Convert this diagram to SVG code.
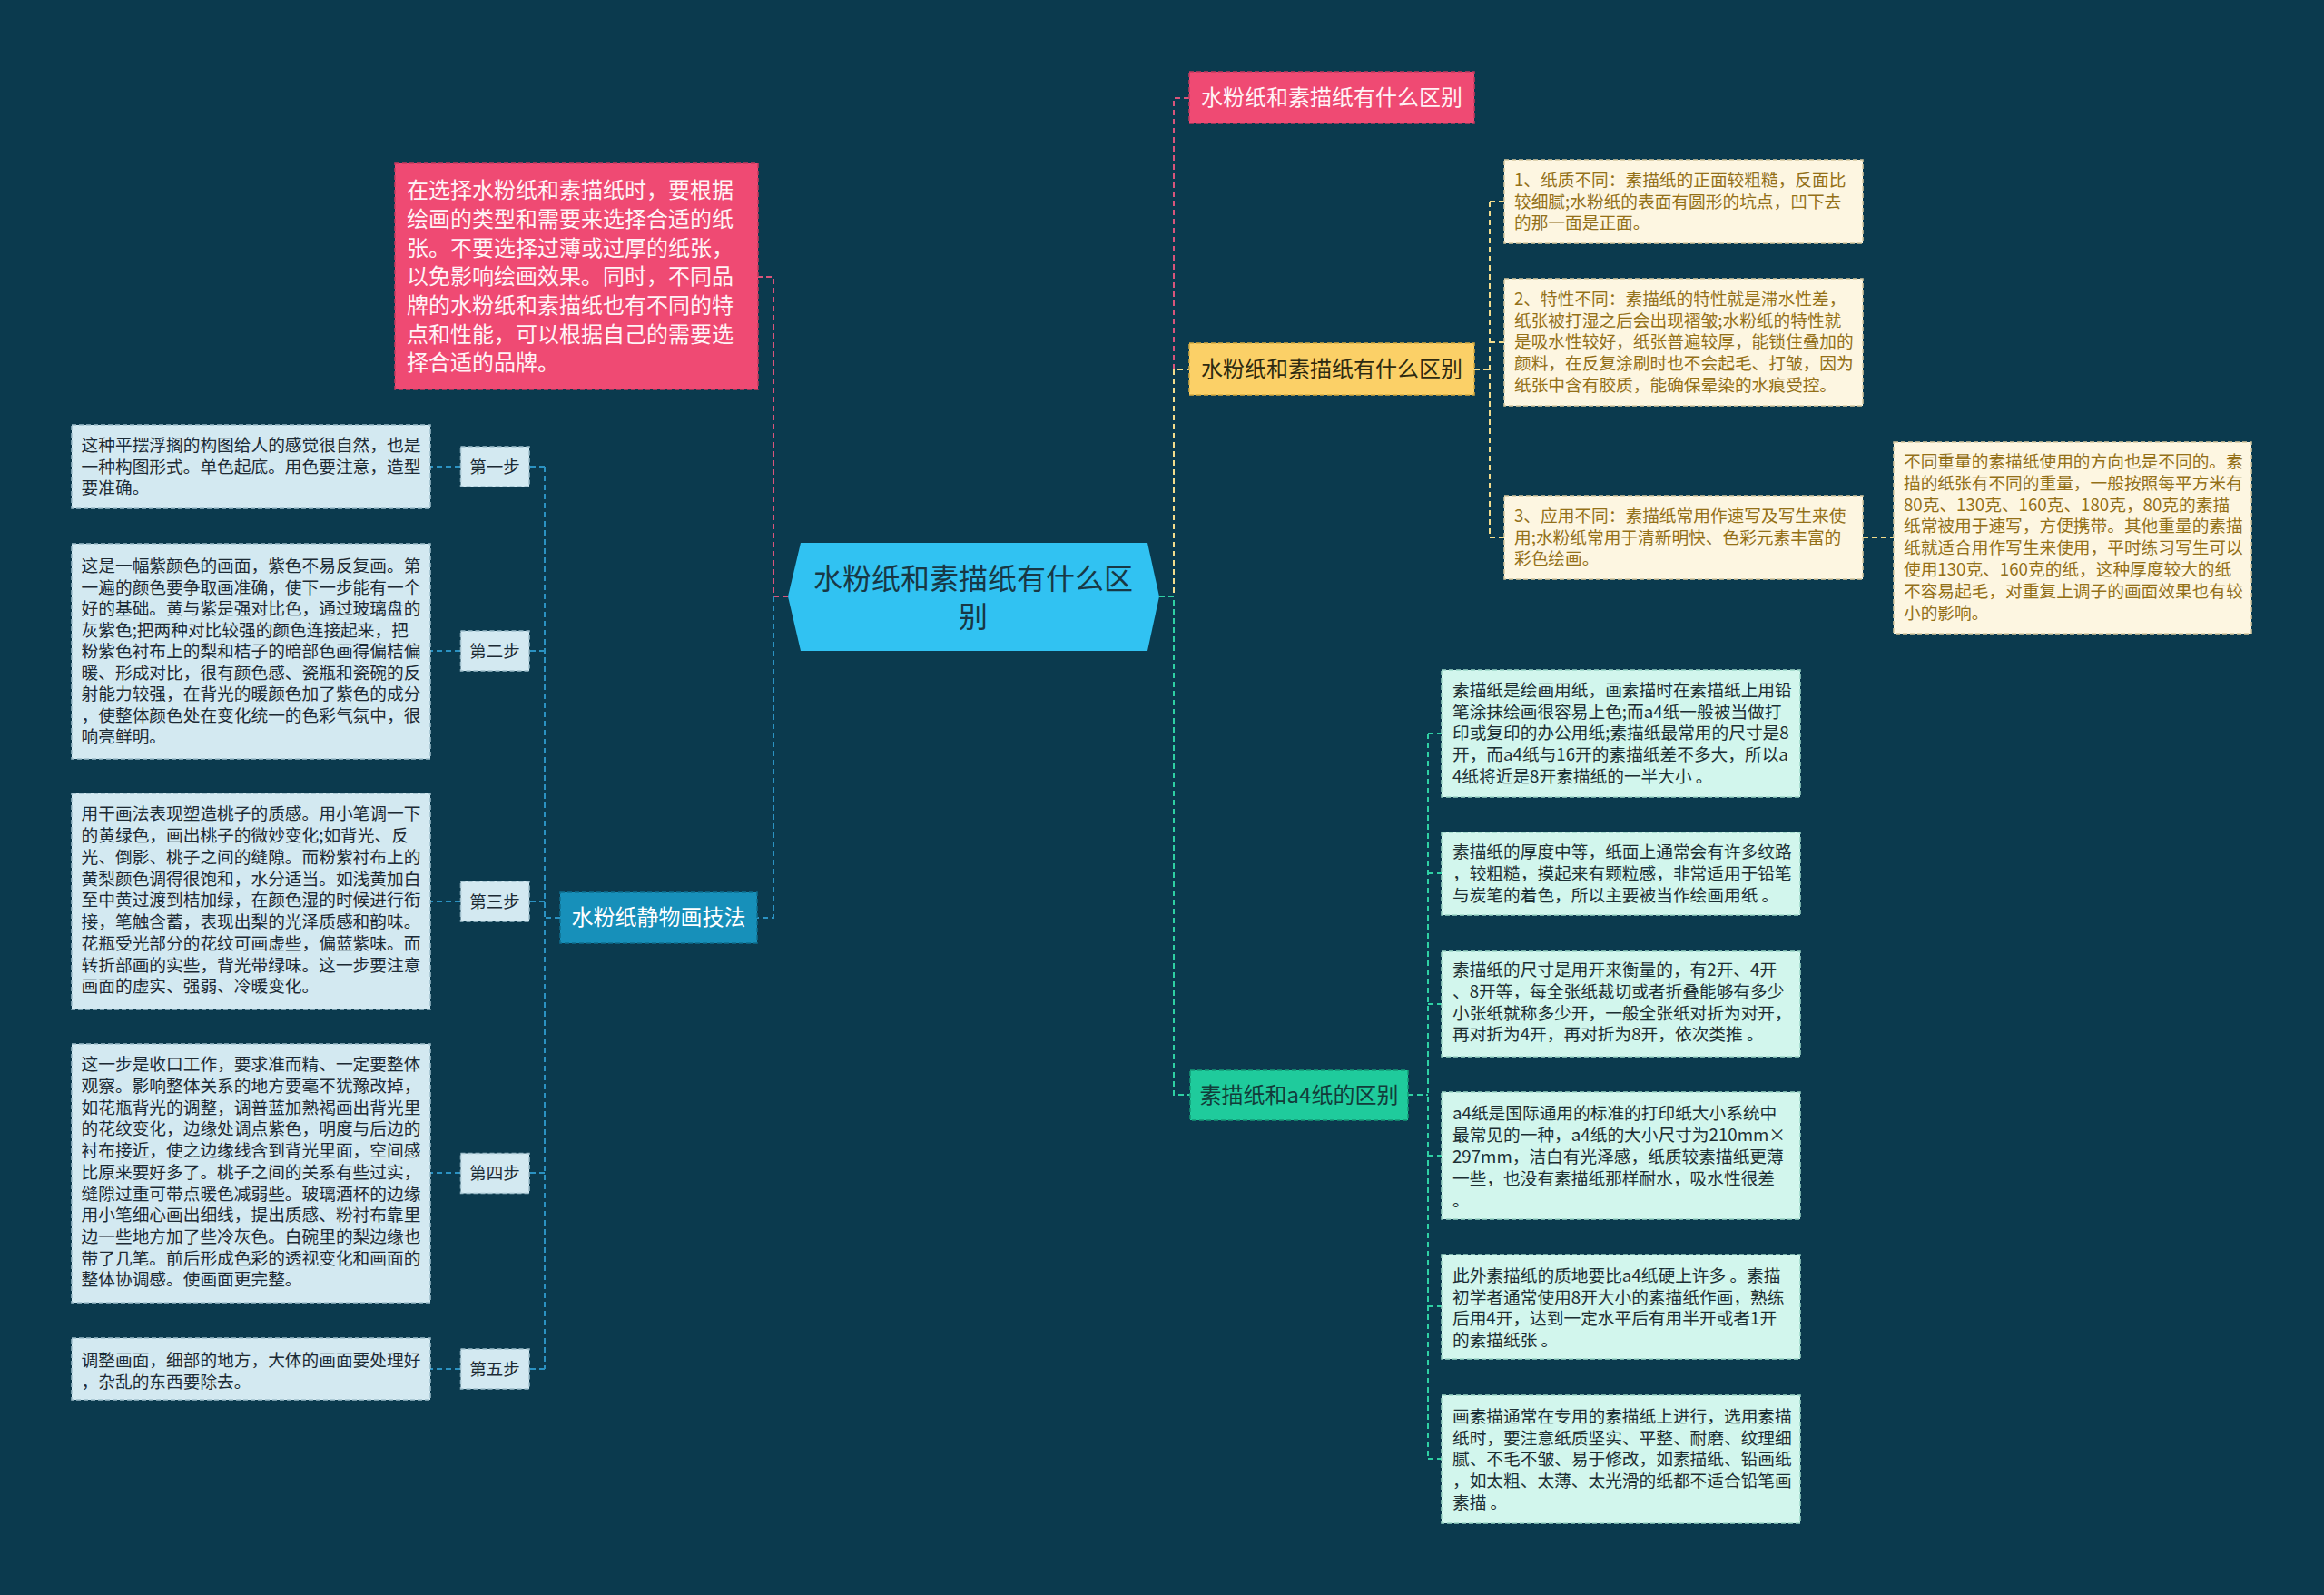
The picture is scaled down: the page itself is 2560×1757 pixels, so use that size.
<svg xmlns="http://www.w3.org/2000/svg" width="2560" height="1757" viewBox="0 0 2560 1757">
<style>
text{font-family:"Noto Sans CJK SC","Noto Sans",sans-serif;}
.c{fill:none;stroke-width:2;stroke-dasharray:6 4;}
.cp{stroke:#d9557b;}
.cy{stroke:#f3dc8c;}
.cg{stroke:#2fd0a4;}
.cb{stroke:#2b92c2;}
.nb{stroke-width:1.5;stroke-dasharray:5 3;}
.lb{fill:#d3e9f1;stroke:#9fbfcc;}
.yb{fill:#fdf6e1;stroke:#d8c9a0;}
.gb{fill:#d2f6ed;stroke:#9cd6c6;}
.tl{font-size:18.7px;fill:#1c2a34;}
.ty{font-size:18.7px;fill:#937018;}
.tg{font-size:18.7px;fill:#1c2f33;}
.step{font-size:18.5px;fill:#1c2a34;text-anchor:middle;}
.big{font-size:24px;text-anchor:middle;}
</style>
<rect width="2560" height="1757" fill="#0b3a4e"/>

<g id="connectors">
  <path class="c cp" d="M868,657 H852 V305 H835"/>
  <path class="c cb" d="M852,657 V1011 H834"/>
  <path class="c cb" d="M617,1011 H600"/>
  <path class="c cb" d="M600,514 V1508"/>
  <path class="c cb" d="M600,514 H583 M507,514 H474"/>
  <path class="c cb" d="M600,717 H583 M507,717 H474"/>
  <path class="c cb" d="M600,993 H583 M507,993 H474"/>
  <path class="c cb" d="M600,1292 H583 M507,1292 H474"/>
  <path class="c cb" d="M600,1508 H583 M507,1508 H474"/>
  <path class="c cp" d="M1293,407 V108 H1310"/>
  <path class="c cy" d="M1277,657 H1293 V407 H1310"/>
  <path class="c cg" d="M1277,657 H1293 V1206 H1311"/>
  <path class="c cy" d="M1624,407 H1641"/>
  <path class="c cy" d="M1641,222 V592"/>
  <path class="c cy" d="M1641,222 H1657 M1641,377 H1657 M1641,592 H1657"/>
  <path class="c cy" d="M2052,592 H2086"/>
  <path class="c cg" d="M1551,1206 H1573"/>
  <path class="c cg" d="M1573,808 V1607"/>
  <path class="c cg" d="M1573,808 H1588 M1573,962 H1588 M1573,1106 H1588 M1573,1273 H1588 M1573,1439 H1588 M1573,1607 H1588"/>
</g>

<g id="center">
  <polygon points="868,657 882,598 1264,598 1277,657 1264,717 882,717" fill="#31c2f2"/>
  <text x="1072" y="649" font-size="32" fill="#183845" text-anchor="middle">水粉纸和素描纸有什么区</text>
  <text x="1072" y="691" font-size="32" fill="#183845" text-anchor="middle">别</text>
</g>

<g id="pink-note">
  <rect x="435" y="180" width="400" height="249" fill="#ef4a73" stroke="#c53a5f" class="nb"/>
  <g font-size="24" fill="#fff3f6">
    <text x="448" y="218">在选择水粉纸和素描纸时，要根据</text>
    <text x="448" y="250">绘画的类型和需要来选择合适的纸</text>
    <text x="448" y="282">张。不要选择过薄或过厚的纸张，</text>
    <text x="448" y="313">以免影响绘画效果。同时，不同品</text>
    <text x="448" y="345">牌的水粉纸和素描纸也有不同的特</text>
    <text x="448" y="377">点和性能，可以根据自己的需要选</text>
    <text x="448" y="408">择合适的品牌。</text>
  </g>
</g>

<g id="technique">
  <rect x="617" y="983" width="217" height="56" fill="#1790ba" stroke="#0f6f90" class="nb"/>
  <text x="725.5" y="1019" class="big" fill="#ffffff">水粉纸静物画技法</text>
</g>

<g id="step1">
  <rect x="507.5" y="492" width="75.5" height="44" fill="#d3e9f1" stroke="#9fbfcc" class="nb"/>
  <text x="545" y="520.5" class="step">第一步</text>
</g>
<g id="step1-text">
  <rect x="79" y="468" width="395" height="92" class="lb nb"/>
  <text class="tl" x="89.6" y="497.3">这种平摆浮搁的构图给人的感觉很自然，也是</text>
  <text class="tl" x="89.6" y="520.8">一种构图形式。单色起底。用色要注意，造型</text>
  <text class="tl" x="89.6" y="544.3">要准确。</text>
</g>

<g id="step2">
  <rect x="507.5" y="695" width="75.5" height="44" fill="#d3e9f1" stroke="#9fbfcc" class="nb"/>
  <text x="545" y="723.5" class="step">第二步</text>
</g>
<g id="step2-text">
  <rect x="79" y="599" width="395" height="237" class="lb nb"/>
  <text class="tl" x="89.6" y="630">这是一幅紫颜色的画面，紫色不易反复画。第</text>
  <text class="tl" x="89.6" y="653.5">一遍的颜色要争取画准确，使下一步能有一个</text>
  <text class="tl" x="89.6" y="677">好的基础。黄与紫是强对比色，通过玻璃盘的</text>
  <text class="tl" x="89.6" y="700.5">灰紫色;把两种对比较强的颜色连接起来，把</text>
  <text class="tl" x="89.6" y="724">粉紫色衬布上的梨和桔子的暗部色画得偏桔偏</text>
  <text class="tl" x="89.6" y="747.5">暖、形成对比，很有颜色感、瓷瓶和瓷碗的反</text>
  <text class="tl" x="89.6" y="771">射能力较强，在背光的暖颜色加了紫色的成分</text>
  <text class="tl" x="89.6" y="794.5">，使整体颜色处在变化统一的色彩气氛中，很</text>
  <text class="tl" x="89.6" y="818">响亮鲜明。</text>
</g>

<g id="step3">
  <rect x="507.5" y="971" width="75.5" height="44" fill="#d3e9f1" stroke="#9fbfcc" class="nb"/>
  <text x="545" y="999.5" class="step">第三步</text>
</g>
<g id="step3-text">
  <rect x="79" y="874" width="395" height="238" class="lb nb"/>
  <text class="tl" x="89.6" y="903.3">用干画法表现塑造桃子的质感。用小笔调一下</text>
  <text class="tl" x="89.6" y="927">的黄绿色，画出桃子的微妙变化;如背光、反</text>
  <text class="tl" x="89.6" y="950.8">光、倒影、桃子之间的缝隙。而粉紫衬布上的</text>
  <text class="tl" x="89.6" y="974.5">黄梨颜色调得很饱和，水分适当。如浅黄加白</text>
  <text class="tl" x="89.6" y="998.3">至中黄过渡到桔加绿，在颜色湿的时候进行衔</text>
  <text class="tl" x="89.6" y="1022">接，笔触含蓄，表现出梨的光泽质感和韵味。</text>
  <text class="tl" x="89.6" y="1045.8">花瓶受光部分的花纹可画虚些，偏蓝紫味。而</text>
  <text class="tl" x="89.6" y="1069.5">转折部画的实些，背光带绿味。这一步要注意</text>
  <text class="tl" x="89.6" y="1093.3">画面的虚实、强弱、冷暖变化。</text>
</g>

<g id="step4">
  <rect x="507.5" y="1270.5" width="75.5" height="44" fill="#d3e9f1" stroke="#9fbfcc" class="nb"/>
  <text x="545" y="1299" class="step">第四步</text>
</g>
<g id="step4-text">
  <rect x="79" y="1150" width="395" height="285" class="lb nb"/>
  <text class="tl" x="89.6" y="1179.3">这一步是收口工作，要求准而精、一定要整体</text>
  <text class="tl" x="89.6" y="1203">观察。影响整体关系的地方要毫不犹豫改掉，</text>
  <text class="tl" x="89.6" y="1226.7">如花瓶背光的调整，调普蓝加熟褐画出背光里</text>
  <text class="tl" x="89.6" y="1250.4">的花纹变化，边缘处调点紫色，明度与后边的</text>
  <text class="tl" x="89.6" y="1274.1">衬布接近，使之边缘线含到背光里面，空间感</text>
  <text class="tl" x="89.6" y="1297.8">比原来要好多了。桃子之间的关系有些过实，</text>
  <text class="tl" x="89.6" y="1321.5">缝隙过重可带点暖色减弱些。玻璃酒杯的边缘</text>
  <text class="tl" x="89.6" y="1345.2">用小笔细心画出细线，提出质感、粉衬布靠里</text>
  <text class="tl" x="89.6" y="1368.9">边一些地方加了些冷灰色。白碗里的梨边缘也</text>
  <text class="tl" x="89.6" y="1392.6">带了几笔。前后形成色彩的透视变化和画面的</text>
  <text class="tl" x="89.6" y="1416.3">整体协调感。使画面更完整。</text>
</g>

<g id="step5">
  <rect x="507.5" y="1486" width="75.5" height="44" fill="#d3e9f1" stroke="#9fbfcc" class="nb"/>
  <text x="545" y="1514.5" class="step">第五步</text>
</g>
<g id="step5-text">
  <rect x="79" y="1474" width="395" height="68" class="lb nb"/>
  <text class="tl" x="89.6" y="1505">调整画面，细部的地方，大体的画面要处理好</text>
  <text class="tl" x="89.6" y="1528.5">，杂乱的东西要除去。</text>
</g>

<g id="pink-title">
  <rect x="1310" y="79" width="314" height="57" fill="#ef4a73" stroke="#c53a5f" class="nb"/>
  <text x="1467" y="116" class="big" fill="#fff3f6">水粉纸和素描纸有什么区别</text>
</g>

<g id="yellow-title">
  <rect x="1310" y="378" width="314" height="57" fill="#fbd067" stroke="#d6aa40" class="nb"/>
  <text x="1467" y="415" class="big" fill="#2e2a10">水粉纸和素描纸有什么区别</text>
</g>

<g id="y1">
  <rect x="1657" y="176" width="395" height="92" class="yb nb"/>
  <text class="ty" x="1668" y="205">1、纸质不同：素描纸的正面较粗糙，反面比</text>
  <text class="ty" x="1668" y="228.7">较细腻;水粉纸的表面有圆形的坑点，凹下去</text>
  <text class="ty" x="1668" y="252.4">的那一面是正面。</text>
</g>
<g id="y2">
  <rect x="1657" y="307" width="395" height="140" class="yb nb"/>
  <text class="ty" x="1668" y="336">2、特性不同：素描纸的特性就是滞水性差，</text>
  <text class="ty" x="1668" y="359.7">纸张被打湿之后会出现褶皱;水粉纸的特性就</text>
  <text class="ty" x="1668" y="383.4">是吸水性较好，纸张普遍较厚，能锁住叠加的</text>
  <text class="ty" x="1668" y="407.1">颜料，在反复涂刷时也不会起毛、打皱，因为</text>
  <text class="ty" x="1668" y="430.8">纸张中含有胶质，能确保晕染的水痕受控。</text>
</g>
<g id="y3">
  <rect x="1657" y="546" width="395" height="92" class="yb nb"/>
  <text class="ty" x="1668" y="575">3、应用不同：素描纸常用作速写及写生来使</text>
  <text class="ty" x="1668" y="598.7">用;水粉纸常用于清新明快、色彩元素丰富的</text>
  <text class="ty" x="1668" y="622.4">彩色绘画。</text>
</g>
<g id="y3-detail">
  <rect x="2086" y="487" width="394" height="211" class="yb nb"/>
  <text class="ty" x="2097" y="515">不同重量的素描纸使用的方向也是不同的。素</text>
  <text class="ty" x="2097" y="538.8">描的纸张有不同的重量，一般按照每平方米有</text>
  <text class="ty" x="2097" y="562.6">80克、130克、160克、180克，80克的素描</text>
  <text class="ty" x="2097" y="586.4">纸常被用于速写，方便携带。其他重量的素描</text>
  <text class="ty" x="2097" y="610.2">纸就适合用作写生来使用，平时练习写生可以</text>
  <text class="ty" x="2097" y="634">使用130克、160克的纸，这种厚度较大的纸</text>
  <text class="ty" x="2097" y="657.8">不容易起毛，对重复上调子的画面效果也有较</text>
  <text class="ty" x="2097" y="681.6">小的影响。</text>
</g>

<g id="green-title">
  <rect x="1311" y="1179" width="240" height="55" fill="#1fcb9c" stroke="#159a76" class="nb"/>
  <text x="1431" y="1215" class="big" fill="#123c3a">素描纸和a4纸的区别</text>
</g>

<g id="g1">
  <rect x="1588" y="738" width="395" height="140" class="gb nb"/>
  <text class="tg" x="1600" y="766.7">素描纸是绘画用纸，画素描时在素描纸上用铅</text>
  <text class="tg" x="1600" y="790.5">笔涂抹绘画很容易上色;而a4纸一般被当做打</text>
  <text class="tg" x="1600" y="814.3">印或复印的办公用纸;素描纸最常用的尺寸是8</text>
  <text class="tg" x="1600" y="838.1">开，而a4纸与16开的素描纸差不多大，所以a</text>
  <text class="tg" x="1600" y="861.9">4纸将近是8开素描纸的一半大小 。</text>
</g>
<g id="g2">
  <rect x="1588" y="917" width="395" height="91" class="gb nb"/>
  <text class="tg" x="1600" y="945">素描纸的厚度中等，纸面上通常会有许多纹路</text>
  <text class="tg" x="1600" y="968.8">，较粗糙，摸起来有颗粒感，非常适用于铅笔</text>
  <text class="tg" x="1600" y="992.6">与炭笔的着色，所以主要被当作绘画用纸 。</text>
</g>
<g id="g3">
  <rect x="1588" y="1048" width="395" height="116" class="gb nb"/>
  <text class="tg" x="1600" y="1075">素描纸的尺寸是用开来衡量的，有2开、4开</text>
  <text class="tg" x="1600" y="1098.8">、8开等，每全张纸裁切或者折叠能够有多少</text>
  <text class="tg" x="1600" y="1122.6">小张纸就称多少开，一般全张纸对折为对开，</text>
  <text class="tg" x="1600" y="1146.4">再对折为4开，再对折为8开，依次类推 。</text>
</g>
<g id="g4">
  <rect x="1588" y="1203" width="395" height="140" class="gb nb"/>
  <text class="tg" x="1600" y="1233.3">a4纸是国际通用的标准的打印纸大小系统中</text>
  <text class="tg" x="1600" y="1257.1">最常见的一种，a4纸的大小尺寸为210mm×</text>
  <text class="tg" x="1600" y="1280.9">297mm，洁白有光泽感，纸质较素描纸更薄</text>
  <text class="tg" x="1600" y="1304.7">一些，也没有素描纸那样耐水，吸水性很差</text>
  <text class="tg" x="1600" y="1328.5">。</text>
</g>
<g id="g5">
  <rect x="1588" y="1382" width="395" height="115" class="gb nb"/>
  <text class="tg" x="1600" y="1411.7">此外素描纸的质地要比a4纸硬上许多 。素描</text>
  <text class="tg" x="1600" y="1435.5">初学者通常使用8开大小的素描纸作画，熟练</text>
  <text class="tg" x="1600" y="1459.3">后用4开，达到一定水平后有用半开或者1开</text>
  <text class="tg" x="1600" y="1483.1">的素描纸张 。</text>
</g>
<g id="g6">
  <rect x="1588" y="1537" width="395" height="141" class="gb nb"/>
  <text class="tg" x="1600" y="1566.7">画素描通常在专用的素描纸上进行，选用素描</text>
  <text class="tg" x="1600" y="1590.5">纸时，要注意纸质坚实、平整、耐磨、纹理细</text>
  <text class="tg" x="1600" y="1614.3">腻、不毛不皱、易于修改，如素描纸、铅画纸</text>
  <text class="tg" x="1600" y="1638.1">，如太粗、太薄、太光滑的纸都不适合铅笔画</text>
  <text class="tg" x="1600" y="1661.9">素描 。</text>
</g>
</svg>
